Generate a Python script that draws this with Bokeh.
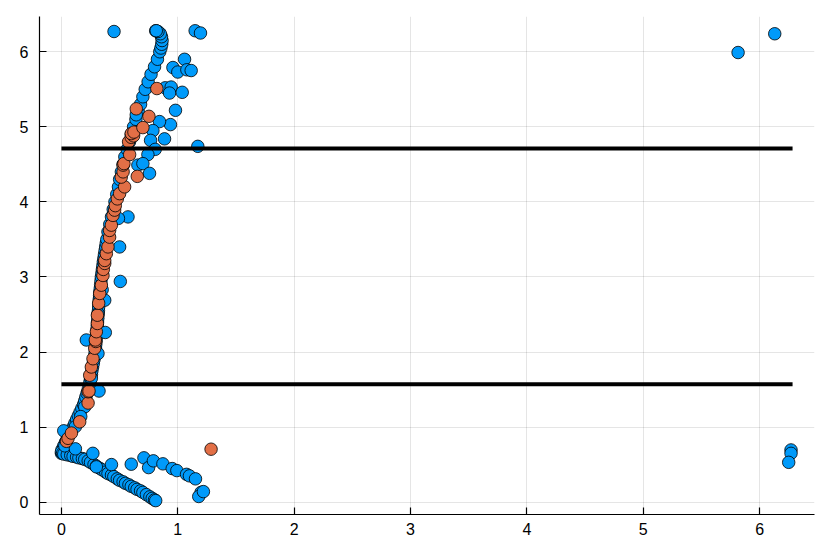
from bokeh.plotting import figure
from bokeh.models import Range1d, FixedTicker
from bokeh.embed import file_html
from bokeh.resources import INLINE

# ---- data ----
blue_curve = [(0.0,0.65),(0.005,0.70),(0.02,0.75),(0.035,0.80),(0.05,0.85),(0.065,0.90),(0.08,0.95),
    (0.10,1.00),(0.115,1.05),(0.13,1.10),(0.145,1.15),(0.16,1.20),(0.175,1.25),(0.19,1.30),(0.20,1.35),
    (0.21,1.40),(0.22,1.45),(0.23,1.50),(0.24,1.55),(0.245,1.60),(0.25,1.65),(0.258,1.70),(0.262,1.75),
    (0.268,1.80),(0.274,1.85),(0.28,1.90),(0.285,1.95),(0.29,2.00),(0.293,2.05),(0.295,2.10),(0.298,2.15),
    (0.30,2.20),(0.303,2.25),(0.305,2.30),(0.308,2.35),(0.31,2.40),(0.313,2.45),(0.315,2.50),(0.318,2.55),
    (0.32,2.60),(0.323,2.65),(0.325,2.70),(0.328,2.75),(0.33,2.80),(0.334,2.85),(0.337,2.90),(0.34,2.95),
    (0.343,3.00),(0.348,3.05),(0.352,3.10),(0.356,3.15),(0.36,3.20),(0.365,3.25),(0.37,3.30),(0.375,3.35),
    (0.38,3.40),(0.385,3.45),(0.39,3.50),(0.40,3.60),(0.415,3.70),(0.43,3.80),(0.445,3.90),(0.46,4.00),
    (0.475,4.10),(0.49,4.20),(0.50,4.30),(0.515,4.40),(0.53,4.50),(0.545,4.60),(0.565,4.70),(0.585,4.80),
    (0.60,4.90),(0.62,5.00),(0.64,5.10),(0.66,5.20),(0.68,5.30),(0.70,5.40),(0.72,5.50),(0.745,5.60),
    (0.77,5.70),(0.80,5.80),(0.825,5.90),(0.845,6.00),(0.855,6.05),(0.862,6.10),(0.865,6.15),(0.86,6.20),
    (0.85,6.24),(0.83,6.27),(0.81,6.28)]

blue_lower = [(0.0,0.67),(0.01,0.65),(0.02,0.64),(0.05,0.63),(0.08,0.62),(0.10,0.61),(0.13,0.60),
    (0.15,0.59),(0.18,0.58),(0.20,0.57),(0.23,0.55),(0.25,0.53),(0.28,0.50),(0.30,0.48),(0.33,0.45),
    (0.35,0.43),(0.38,0.40),(0.40,0.38),(0.43,0.36),(0.45,0.34),(0.48,0.31),(0.50,0.29),(0.53,0.27),
    (0.55,0.25),(0.58,0.23),(0.60,0.21),(0.63,0.19),(0.65,0.17),(0.68,0.15),(0.70,0.13),(0.73,0.10),
    (0.76,0.07),(0.78,0.05),(0.80,0.03),(0.81,0.02)]

blue_scatter = [(0.452,6.27),(0.815,6.28),(1.149,6.28),(1.195,6.25),(0.958,5.79),(1.058,5.90),
    (1.0,5.73),(1.078,5.76),(1.115,5.75),(0.892,5.52),(0.943,5.53),(0.929,5.45),(1.038,5.46),
    (0.98,5.22),(0.937,5.03),(0.843,5.07),(0.786,4.95),(0.886,4.84),(0.766,4.82),(1.172,4.74),
    (0.806,4.70),(0.743,4.63),(0.657,4.49),(0.70,4.51),(0.757,4.38),(0.643,5.16),(0.572,3.80),
    (0.49,3.78),(0.50,3.40),(0.506,2.94),(0.35,2.83),(0.372,2.69),(0.314,2.51),(0.377,2.26),
    (0.214,2.16),(0.314,1.98),(0.257,1.65),(0.323,1.48),(0.20,1.27),(0.166,1.14),(0.12,1.005),
    (0.02,0.95),(0.029,0.75),(0.12,0.71),(0.27,0.65),(0.43,0.50),(0.30,0.47),(0.60,0.505),
    (0.709,0.59),(0.749,0.46),(0.79,0.55),(0.872,0.51),(0.952,0.447),(0.992,0.42),(1.075,0.37),
    (1.10,0.35),(1.152,0.31),(1.20,0.13),(1.18,0.075),(1.22,0.14),(5.815,5.99),(6.13,6.24),
    (6.27,0.695),(6.27,0.65),(6.25,0.53)]

orange_pts = [(0.043,0.81),(0.057,0.85),(0.086,0.92),(0.157,1.07),(0.229,1.32),(0.229,1.47),
    (0.237,1.48),(0.243,1.69),(0.257,1.80),(0.271,1.91),(0.286,2.05),(0.295,2.14),(0.291,2.16),
    (0.30,2.27),(0.309,2.38),(0.309,2.49),(0.32,2.65),(0.329,2.78),(0.343,2.89),(0.357,3.02),
    (0.36,3.10),(0.372,3.18),(0.372,3.22),(0.386,3.31),(0.40,3.40),(0.414,3.53),(0.414,3.62),
    (0.429,3.69),(0.443,3.82),(0.457,3.89),(0.463,3.95),(0.48,4.04),(0.50,4.11),(0.543,4.20),
    (0.514,4.33),(0.53,4.40),(0.53,4.49),(0.537,4.51),(0.586,4.63),(0.577,4.80),(0.60,4.86),
    (0.62,4.88),(0.60,4.91),(0.623,4.93),(0.70,4.99),(0.752,5.14),(0.652,4.34),(0.643,5.24),
    (0.82,5.51),(1.286,0.705)]

line_x = [0.0, 6.2832]
line_low_y = [1.5708, 1.5708]
line_high_y = [4.7124, 4.7124]

x_ticks = [0, 1, 2, 3, 4, 5, 6]
y_ticks = [0, 1, 2, 3, 4, 5, 6]

blue_pts = blue_curve + blue_lower + blue_scatter
blue_x = [p[0] for p in blue_pts]
blue_y = [p[1] for p in blue_pts]
orange_x = [p[0] for p in orange_pts]
orange_y = [p[1] for p in orange_pts]

# ---- figure ----
p = figure(width=830, height=554, output_backend="svg", toolbar_location=None,
           x_range=Range1d(-0.1885, 6.4717), y_range=Range1d(-0.165, 6.47),
           min_border_left=39, min_border_right=16, min_border_top=16, min_border_bottom=40)
p.outline_line_color = None
p.background_fill_color = "white"
p.border_fill_color = "white"

p.scatter(blue_x, blue_y, size=12.5, fill_color="#009AFA", line_color="black", line_width=0.8)
p.scatter(orange_x, orange_y, size=12.5, fill_color="#E26F46", line_color="black", line_width=0.8)
p.line(line_x, line_low_y, line_color="black", line_width=4)
p.line(line_x, line_high_y, line_color="black", line_width=4)

for ax, ticks in ((p.xaxis, x_ticks), (p.yaxis, y_ticks)):
    ax.ticker = FixedTicker(ticks=ticks)
    ax.minor_tick_line_color = None
    ax.major_tick_in = 7
    ax.major_tick_out = 0
    ax.axis_line_color = "black"
    ax.axis_line_width = 1.2
    ax.major_tick_line_color = "black"
    ax.major_tick_line_width = 1.2
    ax.major_label_text_font = "Liberation Sans"
    ax.major_label_text_font_size = "16px"
    ax.major_label_text_color = "black"
p.xaxis.major_label_standoff = 8
p.yaxis.major_label_standoff = 11

p.xgrid.ticker = FixedTicker(ticks=x_ticks)
p.ygrid.ticker = FixedTicker(ticks=y_ticks)
p.grid.grid_line_color = "black"
p.grid.grid_line_alpha = 0.1
p.grid.grid_line_width = 1

open("out.html", "w").write(file_html(p, INLINE))
